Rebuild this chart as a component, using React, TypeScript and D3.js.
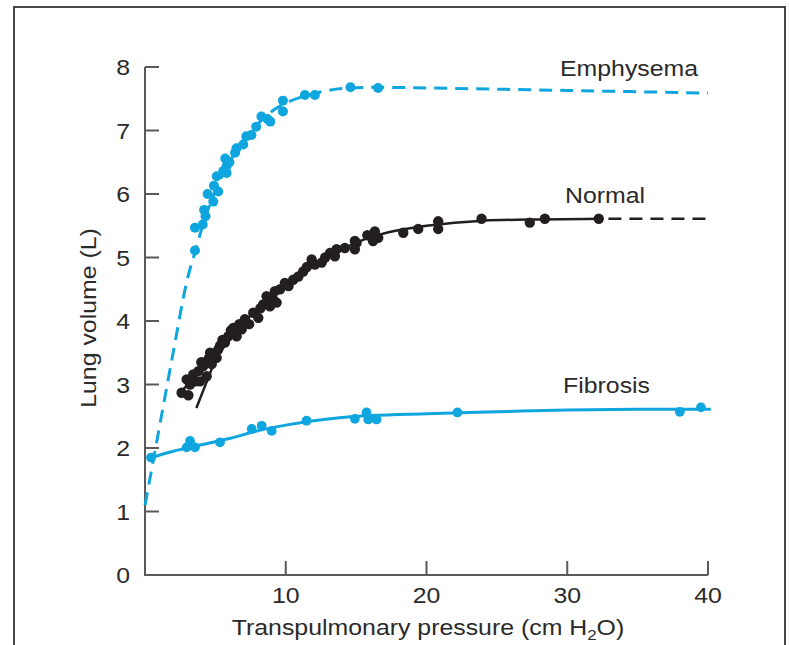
import React from "react";
import * as d3 from "d3";

// ---- data ----
const xTicks = [10, 20, 30, 40];
const yTicks = [1, 2, 3, 4, 5, 6, 7, 8];
const yTickLabels = [0, 1, 2, 3, 4, 5, 6, 7, 8];

// Emphysema: dashed fitted curve and measured points
const emphysemaCurve: [number, number][] = [
  [0, 1.1], [1, 2.3], [2, 3.5], [3, 4.65], [3.6, 5.12], [4.2, 5.58], [5, 6.05], [6, 6.5],
  [7, 6.85], [8, 7.1], [9, 7.3], [10, 7.43], [12, 7.58], [14, 7.66], [16.5, 7.68],
  [20, 7.67], [30, 7.63], [40, 7.59],
];
const emphysemaPoints: [number, number][] = [
  [3.55, 5.11], [3.55, 5.47], [4.1, 5.52], [4.2, 5.75], [4.3, 5.65], [4.45, 6.0], [4.85, 5.88],
  [4.9, 6.13], [5.2, 6.04], [5.1, 6.28], [5.56, 6.36], [5.8, 6.44], [5.8, 6.33], [5.7, 6.56],
  [6.0, 6.5], [6.4, 6.65], [6.5, 6.72], [6.98, 6.78], [7.2, 6.91], [7.56, 6.93], [7.9, 7.06],
  [8.27, 7.22], [8.9, 7.14], [8.7, 7.18], [9.8, 7.3], [9.8, 7.47], [11.36, 7.56], [12.07, 7.56],
  [14.6, 7.68], [16.56, 7.67],
];

// Normal: solid fitted curve, dashed extension, tangent segment and points
const normalCurve: [number, number][] = [
  [2.5, 2.88], [4, 3.22], [6, 3.8], [8, 4.17], [10, 4.55], [12, 4.9], [14, 5.13], [16, 5.32],
  [18, 5.43], [20, 5.5], [24, 5.58], [28, 5.6], [32.5, 5.61],
];
const normalExtension: [number, number][] = [[32.5, 5.61], [40, 5.61]];
const normalTangent: [number, number][] = [[3.65, 2.63], [4.8, 3.28]];
const normalPoints: [number, number][] = [
  [2.6, 2.87], [3.08, 2.83], [2.96, 3.08], [3.2, 3.0], [3.43, 3.16], [3.6, 3.05], [3.79, 3.21],
  [3.91, 3.05], [4.0, 3.35], [4.14, 3.29], [4.38, 3.13], [4.5, 3.4], [4.62, 3.5], [4.74, 3.32],
  [5.09, 3.42], [5.2, 3.55], [5.33, 3.61], [5.5, 3.7], [5.68, 3.66], [5.92, 3.76], [6.1, 3.85],
  [6.27, 3.89], [6.51, 3.76], [6.7, 3.95], [6.87, 3.87], [7.1, 4.03], [7.4, 3.95], [7.69, 4.13],
  [8.05, 4.05], [8.2, 4.2], [8.4, 4.26], [8.64, 4.39], [8.88, 4.23], [9.11, 4.34], [9.23, 4.47],
  [9.35, 4.29], [9.6, 4.5], [9.94, 4.6], [10.2, 4.55], [10.53, 4.65], [10.9, 4.7], [11.24, 4.78],
  [11.5, 4.85], [11.84, 4.97], [12.07, 4.89], [12.55, 4.92], [12.8, 5.0], [13.14, 5.07],
  [13.49, 5.02], [13.61, 5.13], [14.2, 5.15], [14.91, 5.26], [14.91, 5.13], [15.03, 5.23],
  [15.8, 5.35], [16.2, 5.26], [16.33, 5.41], [16.57, 5.31], [18.35, 5.39], [19.41, 5.45],
  [20.83, 5.57], [20.83, 5.45], [23.91, 5.61], [27.34, 5.55], [28.41, 5.61], [32.24, 5.61],
];

// Fibrosis: solid fitted curve and points
const fibrosisCurve: [number, number][] = [
  [0.3, 1.84], [2, 1.95], [4, 2.05], [6, 2.15], [8, 2.27], [10, 2.36], [12, 2.43], [14, 2.48],
  [16, 2.51], [20, 2.54], [25, 2.57], [30, 2.6], [35, 2.61], [40.2, 2.61],
];
const fibrosisPoints: [number, number][] = [
  [0.43, 1.85], [2.96, 2.01], [3.2, 2.11], [3.55, 2.01], [5.33, 2.09], [7.58, 2.3], [8.29, 2.35],
  [9.0, 2.27], [11.48, 2.43], [14.91, 2.46], [15.74, 2.56], [15.86, 2.45], [16.45, 2.45],
  [22.2, 2.56], [38.0, 2.57], [39.5, 2.64],
];

const seriesLabels = ["Emphysema", "Normal", "Fibrosis"];

// ---- styling ----
const W = 789;
const H = 645;
const CYAN = "#0fa6df";
const BLACK = "#231f20";
const AXIS = "#5a5a5a";
const FONT = "'Liberation Sans', Arial, Helvetica, sans-serif";
const FS = 22;
const SX = 1.13;

export default function App() {
  const x = d3.scaleLinear().domain([0, 40]).range([145, 708]);
  const y = d3.scaleLinear().domain([0, 8]).range([575, 67]);
  const line = d3
    .line<[number, number]>()
    .x((d) => x(d[0]))
    .y((d) => y(d[1]))
    .curve(d3.curveMonotoneX);
  const straight = d3
    .line<[number, number]>()
    .x((d) => x(d[0]))
    .y((d) => y(d[1]));

  const txt = (
    label: React.ReactNode,
    tx: number,
    ty: number,
    anchor: string,
    extra: string = ""
  ) => (
    <text
      transform={`translate(${tx},${ty}) ${extra} scale(${SX},1)`}
      textAnchor={anchor}
      fontFamily={FONT}
      fontSize={FS}
      fill="#2a2a2a"
    >
      {label}
    </text>
  );

  return (
    <div style={{ position: "absolute", left: 0, top: 0 }}>
      <svg width={W} height={H} style={{ display: "block", background: "#fff" }}>
        {/* frame */}
        <rect x={14} y={7} width={771} height={H + 10} fill="none" stroke="#333" strokeWidth={1.8} />

        {/* axes */}
        <path
          d={`M${x(0)},${y(8)} V${y(0)} H${x(40)}`}
          fill="none"
          stroke={AXIS}
          strokeWidth={2}
        />
        {yTicks.map((t) => (
          <line key={"yt" + t} x1={x(0)} x2={x(0) + 14} y1={y(t)} y2={y(t)} stroke={AXIS} strokeWidth={2} />
        ))}
        {xTicks.map((t) => (
          <line key={"xt" + t} x1={x(t)} x2={x(t)} y1={y(0)} y2={y(0) - 14} stroke={AXIS} strokeWidth={2} />
        ))}
        {yTickLabels.map((t) => (
          <g key={"yl" + t}>{txt(String(t), 130, y(t) + 8, "end")}</g>
        ))}
        {xTicks.map((t) => (
          <g key={"xl" + t}>{txt(String(t), x(t), 603, "middle")}</g>
        ))}
        {txt(
          <>
            Transpulmonary pressure (cm H
            <tspan fontSize={15} dy={5}>2</tspan>
            <tspan dy={-5}>O)</tspan>
          </>,
          428,
          635,
          "middle"
        )}
        {txt("Lung volume (L)", 96, 318, "middle", "rotate(-90)")}

        {/* Fibrosis */}
        <path d={line(fibrosisCurve) || ""} fill="none" stroke={CYAN} strokeWidth={3} />
        {fibrosisPoints.map((p, i) => (
          <circle key={"f" + i} cx={x(p[0])} cy={y(p[1])} r={4.9} fill={CYAN} />
        ))}

        {/* Emphysema */}
        <path
          d={line(emphysemaCurve) || ""}
          fill="none"
          stroke={CYAN}
          strokeWidth={3}
          strokeDasharray="13,8"
        />
        {emphysemaPoints.map((p, i) => (
          <circle key={"e" + i} cx={x(p[0])} cy={y(p[1])} r={5} fill={CYAN} />
        ))}

        {/* Normal */}
        <path d={line(normalCurve) || ""} fill="none" stroke={BLACK} strokeWidth={2.5} />
        <path
          d={straight(normalExtension) || ""}
          fill="none"
          stroke={BLACK}
          strokeWidth={2.5}
          strokeDasharray="13,8"
          strokeDashoffset={-6}
        />
        <path d={straight(normalTangent) || ""} fill="none" stroke={BLACK} strokeWidth={2.5} />
        {normalPoints.map((p, i) => (
          <circle key={"n" + i} cx={x(p[0])} cy={y(p[1])} r={5.2} fill={BLACK} />
        ))}

        {/* series labels */}
        {txt(seriesLabels[0], 560, 76, "start")}
        {txt(seriesLabels[1], 565, 203, "start")}
        {txt(seriesLabels[2], 563, 393, "start")}
      </svg>
    </div>
  );
}
